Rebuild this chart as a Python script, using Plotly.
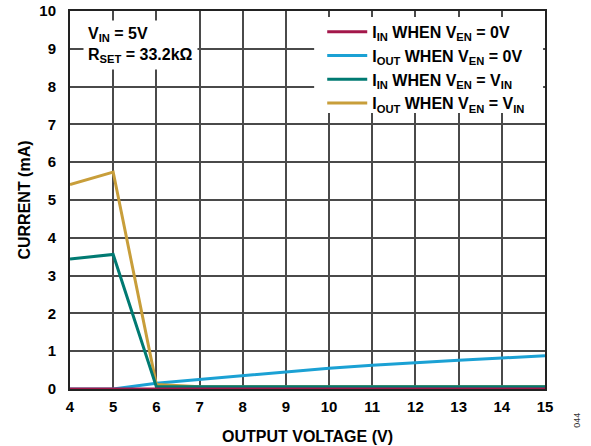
import plotly.graph_objects as go

# ---- data ----
x_vals = [4, 5, 6, 7, 8, 9, 10, 11, 12, 13, 14, 15]
i_in_en0 = [0.0, 0.0, 0.0, 0.0, 0.0, 0.0, 0.0, 0.0, 0.0, 0.0, 0.0, 0.0]
i_out_en0 = [0.0, 0.0, 0.15, 0.25, 0.35, 0.46, 0.55, 0.63, 0.70, 0.76, 0.82, 0.88]
i_in_envin = [3.44, 3.56, 0.06, 0.06, 0.06, 0.06, 0.06, 0.06, 0.06, 0.06, 0.06, 0.06]
i_out_envin = [5.41, 5.74, 0.12, 0.06, 0.06, 0.06, 0.06, 0.06, 0.06, 0.06, 0.06, 0.06]

names = [
    "I<sub>IN</sub> WHEN V<sub>EN</sub> = 0V",
    "I<sub>OUT</sub> WHEN V<sub>EN</sub> = 0V",
    "I<sub>IN</sub> WHEN V<sub>EN</sub> = V<sub>IN</sub>",
    "I<sub>OUT</sub> WHEN V<sub>EN</sub> = V<sub>IN</sub>",
]
colors = ["#A3174A", "#1BA1D4", "#007A72", "#C89E3A"]
x_ticks = list(range(4, 16))
y_ticks = list(range(0, 11))

FONT = "Liberation Sans, Arial, sans-serif"

fig = go.Figure()
# drawing order: blue, gold, green, crimson (legend order set by legendrank)
series = [(1, i_out_en0), (3, i_out_envin), (2, i_in_envin), (0, i_in_en0)]
for idx, ys in series:
    fig.add_trace(go.Scatter(
        x=x_vals, y=ys, mode="lines", name=names[idx],
        line=dict(color=colors[idx], width=3),
        legendrank=idx + 1,
    ))

fig.update_layout(
    template="none",
    width=591, height=446,
    margin=dict(l=70, r=46, t=11, b=57, autoexpand=False),
    paper_bgcolor="white", plot_bgcolor="white",
    font=dict(family=FONT, size=15, color="black", weight="bold"),
    showlegend=True,
    legend=dict(
        x=0.531, y=0.99, xanchor="left", yanchor="top",
        bgcolor="rgba(0,0,0,0)", borderwidth=0, itemwidth=40,
        font=dict(family=FONT, size=16, color="black", weight="bold"),
        tracegroupgap=0,
    ),
    shapes=[dict(
        type="rect", xref="paper", yref="paper", layer="above",
        x0=0.514, x1=0.996, y0=0.730, y1=0.984,
        fillcolor="white", line=dict(width=0),
    )],
)
fig.update_xaxes(
    range=[4, 15], tickvals=x_ticks, ticktext=[str(v) for v in x_ticks],
    tickfont=dict(family=FONT, size=15, weight="bold"),
    showgrid=True, gridcolor="#4a4a4a", gridwidth=1.5,
    showline=True, mirror=True, linecolor="#222222", linewidth=2,
    ticks="", ticklabelstandoff=3, zeroline=False, automargin=False,
    title=dict(text="OUTPUT VOLTAGE (V)", standoff=17,
               font=dict(family=FONT, size=16, weight="bold")),
)
fig.update_yaxes(
    range=[0, 10], tickvals=y_ticks, ticktext=[str(v) for v in y_ticks],
    tickfont=dict(family=FONT, size=15, weight="bold"),
    showgrid=True, gridcolor="#4a4a4a", gridwidth=1.5,
    showline=True, mirror=True, linecolor="#222222", linewidth=2,
    ticks="", ticklabelstandoff=9, zeroline=False, automargin=False,
    title=dict(text="CURRENT (mA)", standoff=5,
               font=dict(family=FONT, size=16, weight="bold")),
)

fig.add_annotation(
    x=4.3, y=9.1, xref="x", yref="y", xanchor="left", yanchor="middle",
    text="V<sub>IN</sub> = 5V<br>R<sub>SET</sub> = 33.2kΩ",
    showarrow=False, align="left", bgcolor="white", borderpad=4,
    font=dict(family=FONT, size=16, color="black", weight="bold"),
)
fig.add_annotation(
    x=1.067, y=-0.082, xref="paper", yref="paper",
    xanchor="center", yanchor="middle",
    text="044", showarrow=False, textangle=-90,
    font=dict(family=FONT, size=9, color="#333333", weight="normal"),
)

# remove the page's default 8px body margin so the figure fills the window
fig.write_html(
    "out.html",
    config={"displayModeBar": False},
    post_script="document.body.style.margin='0px';",
)
